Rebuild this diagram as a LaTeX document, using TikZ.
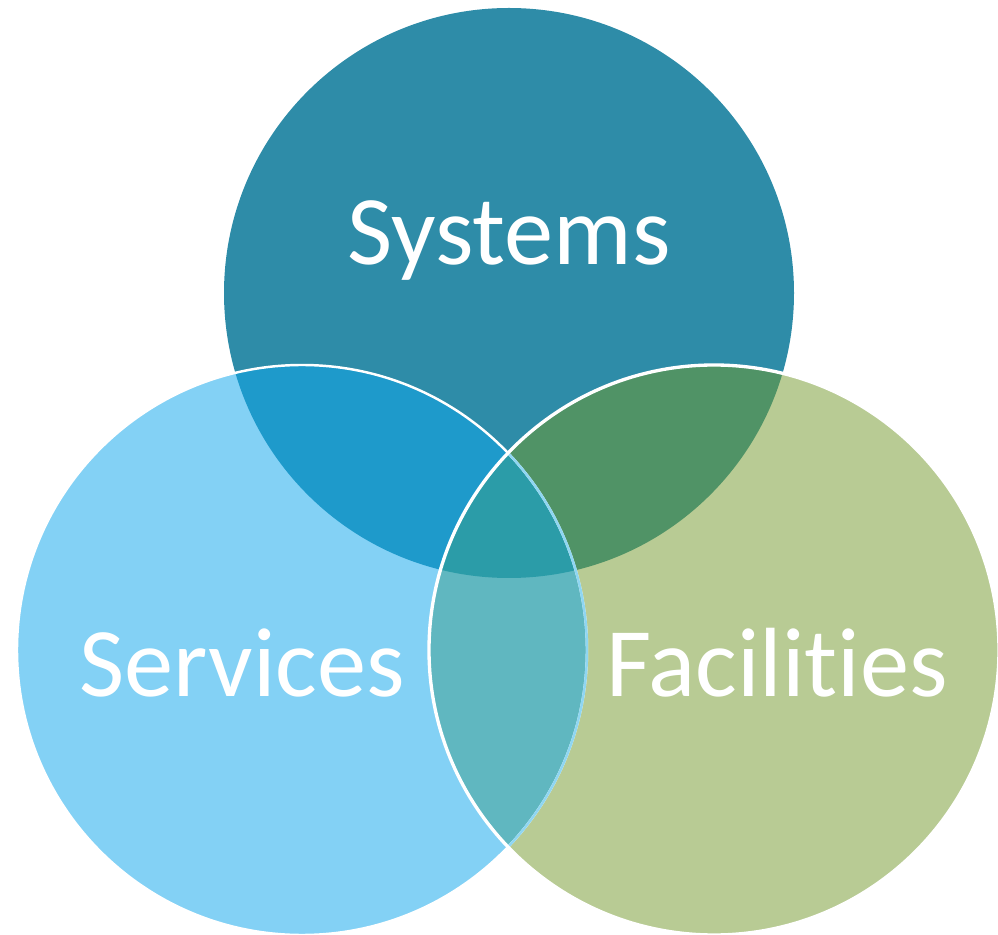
\documentclass[tikz,border=0pt]{standalone}
\usepackage{fontspec}
\setmainfont{Carlito}[Ligatures={NoCommon}]
\definecolor{cTop}{HTML}{2E8CA8}
\definecolor{cLeft}{HTML}{83D1F5}
\definecolor{cRight}{HTML}{B8CB94}
\definecolor{cTL}{HTML}{1E9ACB}
\definecolor{cTR}{HTML}{509366}
\definecolor{cLR}{HTML}{60B7C0}
\definecolor{cAll}{HTML}{2B9CA8}
\definecolor{cEdge}{HTML}{8FD6F2}
\begin{document}
\begin{tikzpicture}[x=0.02cm,y=-0.02cm,
  lbl/.style={text=white,font=\fontsize{56}{62}\selectfont,anchor=base,inner sep=0pt}]
\useasboundingbox (0,0) rectangle (998,935);
\def\R{285}
\coordinate (T) at (509,293);
\coordinate (L) at (302,650);
\coordinate (Rc) at (714,650);
\fill[cTop] (T) circle (\R);
\fill[cLeft] (L) circle (\R);
\fill[cRight] (Rc) circle (\R);
\begin{scope}\clip (T) circle (\R); \fill[cTL] (L) circle (\R);\end{scope}
\begin{scope}\clip (T) circle (\R); \fill[cTR] (Rc) circle (\R);\end{scope}
\begin{scope}\clip (L) circle (\R); \fill[cLR] (Rc) circle (\R);\end{scope}
\begin{scope}\clip (T) circle (\R); \clip (L) circle (\R); \fill[cAll] (Rc) circle (\R);\end{scope}
\draw[white,line width=1.4pt] (L) circle (\R);
\begin{scope}\clip (Rc) circle (\R); \draw[cEdge,line width=1.4pt] (L) circle (\R);\end{scope}
\draw[white,line width=1.9pt] (Rc) circle (\R);
\node[lbl] (sys) at (509,265) {Systems};
\node[lbl] (ser) at (242,697) {Services};
\node[lbl] (fac) at (777,697) {Facilities};
\end{tikzpicture}
\end{document}
